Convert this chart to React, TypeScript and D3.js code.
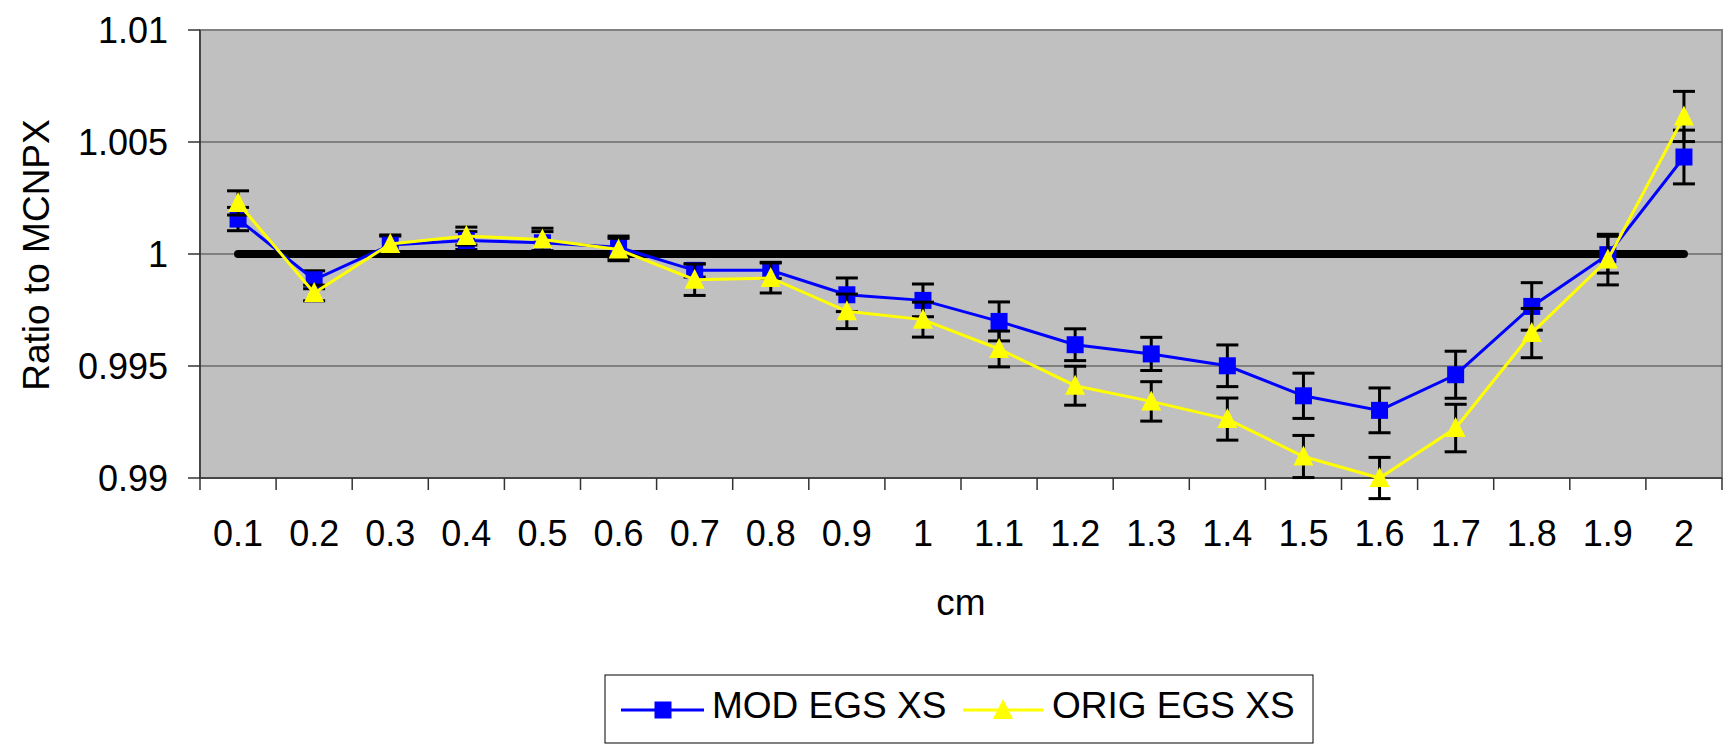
import React from "react";
import * as d3 from "d3";

const categories = ["0.1", "0.2", "0.3", "0.4", "0.5", "0.6", "0.7", "0.8", "0.9", "1", "1.1", "1.2", "1.3", "1.4", "1.5", "1.6", "1.7", "1.8", "1.9", "2"];
const modEgs = [1.00156, 0.99885, 1.0004, 1.0006, 1.0005, 1.0003, 0.99927, 0.99927, 0.99818, 0.99793, 0.99699, 0.99595, 0.99554, 0.99501, 0.99367, 0.99302, 0.99461, 0.99766, 0.99997, 1.00433];
const modErr = [0.00052, 0.0004, 0.0004, 0.0004, 0.0005, 0.0005, 0.0003, 0.00036, 0.00075, 0.00073, 0.00087, 0.00071, 0.00074, 0.00093, 0.00101, 0.001, 0.00105, 0.00106, 0.00082, 0.0012];
const origEgs = [1.00228, 0.99826, 1.00045, 1.0008, 1.00065, 1.0002, 0.99885, 0.99893, 0.99744, 0.99707, 0.99576, 0.99412, 0.99342, 0.99263, 0.99096, 0.99, 0.99223, 0.99647, 0.99975, 1.00614];
const origErr = [0.00054, 0.00035, 0.0004, 0.0004, 0.0005, 0.0005, 0.0007, 0.00067, 0.00077, 0.00078, 0.0008, 0.00087, 0.00088, 0.00094, 0.00094, 0.00092, 0.00106, 0.0011, 0.00113, 0.00112];
const reference = categories.map(() => 1);
const yTicks = [0.99, 0.995, 1, 1.005, 1.01];

const FONT = "'Liberation Sans', Arial, sans-serif";

const width = 1734;
const height = 747;
const plot = { left: 200, top: 30, right: 1722, bottom: 478 };

const x = d3.scaleBand<string>().domain(categories).range([plot.left, plot.right]);
const y = d3.scaleLinear().domain([0.99, 1.01]).range([plot.bottom, plot.top]);
const cx = (c: string) => (x(c) as number) + x.bandwidth() / 2;

const line = d3
  .line<number>()
  .x((_, i) => cx(categories[i]))
  .y((d) => y(d));

const triangle = (px: number, py: number, s: number) =>
  `M${px},${py - s * 0.55} L${px + s / 2},${py + s * 0.45} L${px - s / 2},${py + s * 0.45} Z`;

const ErrorBars = ({ values, errs }: { values: number[]; errs: number[] }) => (
  <g stroke="#000" strokeWidth={3}>
    {values.map((v, i) => {
      const px = cx(categories[i]);
      const top = y(v + errs[i]);
      const bot = y(v - errs[i]);
      return (
        <g key={i}>
          <line x1={px} x2={px} y1={top} y2={bot} />
          <line x1={px - 11} x2={px + 11} y1={top} y2={top} />
          <line x1={px - 11} x2={px + 11} y1={bot} y2={bot} />
        </g>
      );
    })}
  </g>
);

export default function App() {
  return (
    <svg width={width} height={height} style={{ position: "absolute", left: 0, top: 0, background: "#fff" }} fontFamily={FONT}>
      <rect x={plot.left} y={plot.top} width={plot.right - plot.left} height={plot.bottom - plot.top} fill="#C0C0C0" stroke="#808080" strokeWidth={2} />
      {yTicks.slice(1, -1).map((t) => (
        <line key={t} x1={plot.left} x2={plot.right} y1={y(t)} y2={y(t)} stroke="#404040" strokeWidth={1} />
      ))}
      <line x1={plot.left} x2={plot.left} y1={plot.top} y2={plot.bottom} stroke="#333" strokeWidth={1.5} />
      <line x1={plot.left} x2={plot.right} y1={plot.bottom} y2={plot.bottom} stroke="#333" strokeWidth={1.5} />
      {yTicks.map((t) => (
        <g key={t}>
          <line x1={plot.left - 12} x2={plot.left} y1={y(t)} y2={y(t)} stroke="#333" strokeWidth={1.5} />
          <text x={168} y={y(t)} dy="0.35em" textAnchor="end" fontSize={36}>
            {String(t)}
          </text>
        </g>
      ))}
      {categories.map((c) => (
        <line key={c} x1={x(c)} x2={x(c)} y1={plot.bottom} y2={plot.bottom + 12} stroke="#333" strokeWidth={1.5} />
      ))}
      <line x1={plot.right} x2={plot.right} y1={plot.bottom} y2={plot.bottom + 12} stroke="#333" strokeWidth={1.5} />
      {categories.map((c) => (
        <text key={c} x={cx(c)} y={546} textAnchor="middle" fontSize={36}>
          {c}
        </text>
      ))}
      <text x={961} y={615} textAnchor="middle" fontSize={37}>
        cm
      </text>
      <text transform="translate(49,255) rotate(-90)" textAnchor="middle" fontSize={37}>
        Ratio to MCNPX
      </text>

      <path d={line(reference) || ""} fill="none" stroke="#000" strokeWidth={8} strokeLinecap="round" />

      <ErrorBars values={modEgs} errs={modErr} />
      <path d={line(modEgs) || ""} fill="none" stroke="#0000FF" strokeWidth={3} />
      {modEgs.map((v, i) => (
        <rect key={i} x={cx(categories[i]) - 8.5} y={y(v) - 8.5} width={17} height={17} fill="#0000FF" />
      ))}

      <ErrorBars values={origEgs} errs={origErr} />
      <path d={line(origEgs) || ""} fill="none" stroke="#FFFF00" strokeWidth={3} />
      {origEgs.map((v, i) => (
        <path key={i} d={triangle(cx(categories[i]), y(v), 20)} fill="#FFFF00" />
      ))}

      <g>
        <rect x={605} y={675} width={708} height={68} fill="#fff" stroke="#000" strokeWidth={1} />
        <line x1={621} x2={704} y1={710} y2={710} stroke="#0000FF" strokeWidth={3} />
        <rect x={663 - 8.5} y={710 - 8.5} width={17} height={17} fill="#0000FF" />
        <text x={712} y={718} fontSize={37}>
          MOD EGS XS
        </text>
        <line x1={963} x2={1043} y1={710} y2={710} stroke="#FFFF00" strokeWidth={3} />
        <path d={triangle(1003, 710, 20)} fill="#FFFF00" />
        <text x={1052} y={718} fontSize={37}>
          ORIG EGS XS
        </text>
      </g>
    </svg>
  );
}
